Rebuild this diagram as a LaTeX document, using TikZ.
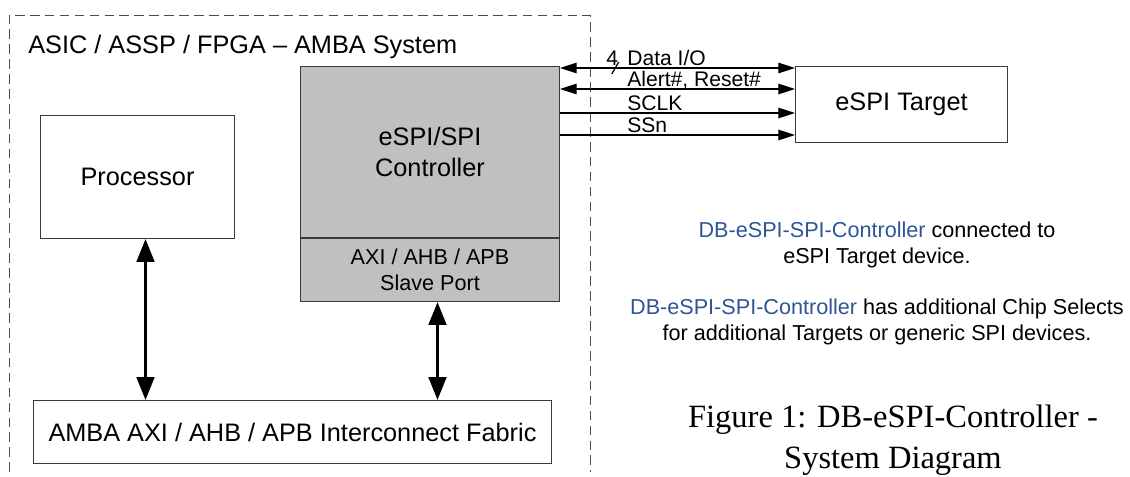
\documentclass[tikz,border=0pt]{standalone}
\usepackage{fontspec}
\setmainfont{Liberation Sans}
\newfontfamily\captionserif{Liberation Serif}
\usetikzlibrary{calc,positioning,arrows.meta}
\definecolor{ctrlgray}{HTML}{C0C0C0}
\definecolor{edgegray}{HTML}{3A3A3A}
\definecolor{linkblue}{HTML}{2F5597}
\newcommand{\DBname}{\textcolor{linkblue}{DB-eSPI-SPI-Controller}}

\begin{document}
\begin{tikzpicture}[x=0.02cm, y=-0.02cm,
  box/.style={draw=edgegray, line width=0.6pt, inner sep=2pt, align=center,
    font=\fontsize{14.4}{18}\selectfont},
  frame/.style={draw=black!70, line width=0.5pt, dash pattern=on 5.5pt off 3pt},
  bus/.style={line width=1.7pt, {Triangle[length=13pt,width=10pt]}-{Triangle[length=13pt,width=10pt]}},
  sig/.style={line width=0.7pt},
  sigtip/.tip={Triangle[length=9.5pt,width=6pt]},
  lbl/.style={anchor=base west, inner sep=0pt, yshift=1.5pt, font=\fontsize{12}{13}\selectfont},
  note/.style={align=center, inner sep=0pt, font=\fontsize{12.3}{15}\selectfont}]
  \useasboundingbox (0,0) rectangle (1130,477);
  % system frame
  \draw[frame] (9,472) -- (9,15) -- (590,15) -- (590,472);
  \node[anchor=base west, inner sep=0pt, font=\fontsize{14.4}{17}\selectfont] (sys) at (28,53)
    {ASIC / ASSP / FPGA -- AMBA System};
  % blocks
  \node[box, fill=ctrlgray, anchor=north west, minimum width=5.18cm, minimum height=3.42cm] (ctrl) at (300,66)
    {eSPI/SPI\\Controller};
  \node[box, fill=ctrlgray, below=0pt of ctrl, minimum width=5.18cm, minimum height=1.26cm,
    font=\fontsize{12.3}{14.8}\selectfont] (port) {AXI / AHB / APB\\Slave Port};
  \node[box, anchor=north west, minimum width=3.88cm, minimum height=2.46cm] (proc) at (40,115) {Processor};
  \node[box, anchor=north west, minimum width=10.36cm, minimum height=1.26cm] (fab) at (33,400)
    {AMBA AXI / AHB / APB Interconnect Fabric};
  \node[box, anchor=north west, minimum width=4.24cm, minimum height=1.52cm] (tgt) at (795,66) {eSPI Target};
  % buses
  \draw[bus] ($(proc.south)+(8,0)$) -- ($(proc.south |- fab.north)+(8,0)$);
  \draw[bus] ($(port.south)+(7.5,0)$) -- ($(port.south |- fab.north)+(7.5,0)$);
  % eSPI signals
  \draw[sig, sigtip-sigtip] ($(ctrl.north east)+(0,2)$) --
    node[lbl, pos=0.195] {4} coordinate[pos=0.235] (bw) node[lbl, pos=0.284] {Data I/O}
    ($(tgt.north west)+(0,2)$);
  \draw[sig] ($(bw)+(-3.5,6)$) -- ($(bw)+(3.5,-6)$);
  \draw[sig, sigtip-sigtip] ($(ctrl.north east)+(0,23)$) --
    node[lbl, pos=0.284] {Alert\#, Reset\#} ($(tgt.north west)+(0,23)$);
  \draw[sig, -sigtip] ($(ctrl.north east)+(0,47)$) --
    node[lbl, pos=0.284] {SCLK} ($(tgt.north west)+(0,47)$);
  \draw[sig, -sigtip] ($(ctrl.north east)+(0,69)$) --
    node[lbl, pos=0.284] {SSn} ($(tgt.north west)+(0,69)$);
  % notes
  \node[note] (note1) at (877,245) {\DBname{} connected to\\eSPI Target device.};
  \node[note] (note2) at (877,322) {\DBname{} has additional Chip Selects\\for additional Targets or generic SPI devices.};
  \node[align=center, inner sep=0pt, font=\captionserif\fontsize{18.5}{23.3}\selectfont] (cap) at (893,440)
    {Figure 1: DB-eSPI-Controller -\\System Diagram};
\end{tikzpicture}
\end{document}
